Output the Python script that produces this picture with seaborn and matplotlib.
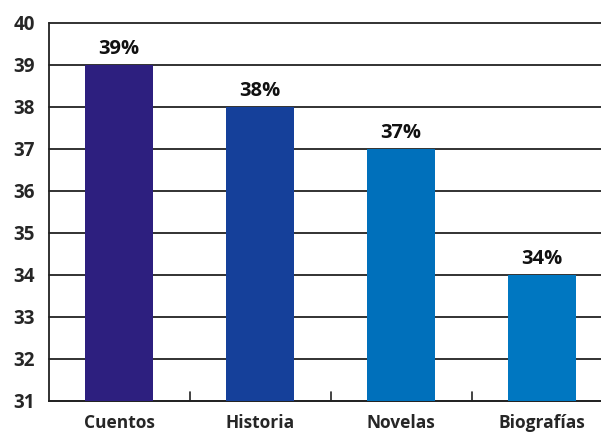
import matplotlib
matplotlib.use("Agg")
import matplotlib.pyplot as plt
import seaborn as sns
import pandas as pd

categories = ["Cuentos", "Historia", "Novelas", "Biografías"]
values = [39, 38, 37, 34]
labels = ["39%", "38%", "37%", "34%"]
colors = ["#2d1f7f", "#15409a", "#0070bb", "#0077c1"]
y_ticks = list(range(31, 41))

sns.set_theme(style="white")
plt.rcParams["font.family"] = ["Open Sans", "DejaVu Sans"]

fig = plt.figure(figsize=(6.01, 4.32), dpi=100)
ax = fig.add_axes([48.5 / 601, 31 / 432, 564 / 601, 378 / 432])

df = pd.DataFrame({"cat": categories, "val": values})
sns.barplot(data=df, x="cat", y="val", hue="cat", palette=colors, width=0.48,
            legend=False, ax=ax, zorder=3, saturation=1, linewidth=0)

ax.set_ylim(31, 40)
ax.set_xlim(-0.5, 3.5)
ax.set_yticks(y_ticks)
ax.set_yticklabels([str(t) for t in y_ticks], fontsize=13.5, fontweight="bold")
for t in y_ticks:
    ax.axhline(t, color="#222222", lw=1.3, zorder=1, clip_on=False)

ax.set_xticks(range(len(categories)))
ax.set_xticklabels(categories, fontsize=12.5, fontweight="bold")
ax.tick_params(axis="x", length=0, pad=9)
ax.tick_params(axis="y", length=0, pad=10)
for xb in [0.5, 1.5, 2.5]:
    ax.plot([xb, xb], [31, 31.22], color="#222222", lw=1.2, zorder=4, clip_on=False)

for i, (v, lab) in enumerate(zip(values, labels)):
    ax.text(i, v + 0.15, lab, ha="center", va="bottom", fontsize=14.5,
            fontweight="bold", color="#111111", zorder=5)

for s in ["top", "right"]:
    ax.spines[s].set_visible(False)
ax.spines["left"].set_color("#222222")
ax.spines["left"].set_linewidth(1.3)
ax.spines["bottom"].set_color("#222222")
ax.spines["bottom"].set_linewidth(1.3)
ax.set_xlabel("")
ax.set_ylabel("")
ax.grid(False)

fig.savefig("out.png", dpi=100)
